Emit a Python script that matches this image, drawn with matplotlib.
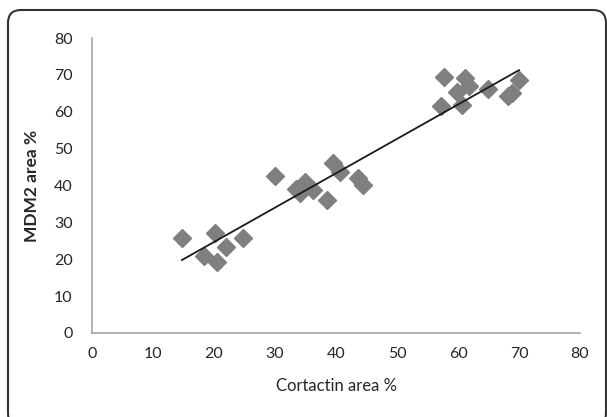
import matplotlib
matplotlib.use("Agg")
import matplotlib.pyplot as plt
from matplotlib.patches import FancyBboxPatch
from matplotlib.transforms import IdentityTransform
import numpy as np

# cortactin area % vs MDM2 area %
cortactin = [14.75, 18.4, 20.2, 20.5, 22.0, 24.8, 30.0, 33.4, 34.1, 34.9, 36.2,
             38.5, 39.5, 40.7, 43.6, 44.4, 57.2, 57.7, 59.8, 60.7, 61.1, 61.8,
             64.9, 68.2, 68.9, 70.0]
mdm2 = [25.7, 20.9, 27.1, 19.2, 23.3, 25.7, 42.5, 39.0, 37.9, 40.9, 38.8,
        36.0, 46.1, 43.6, 42.0, 40.1, 61.5, 69.4, 65.3, 61.8, 69.1, 66.9,
        66.1, 64.2, 65.0, 68.6]

ticks = [0, 10, 20, 30, 40, 50, 60, 70, 80]

plt.rcParams['font.family'] = ['Lato', 'DejaVu Sans']

W, H = 607, 417
fig = plt.figure(figsize=(W / 100, H / 100), dpi=100, facecolor='w')

# rounded frame around the chart, in pixels (corners partly off the edges)
frame = FancyBboxPatch((8, -9), 598, H - 10 + 9,
                       boxstyle="round,pad=0,rounding_size=13",
                       transform=IdentityTransform(), fill=False,
                       edgecolor='#333333', linewidth=1.5)
fig.patches.append(frame)

ax = fig.add_axes([92 / W, 1 - 333 / H, (580 - 92) / W, (333 - 38) / H])

ax.plot(cortactin, mdm2, linestyle='none', marker='D', markersize=9,
        color='#7f7f7f', markeredgecolor='#7f7f7f')

# linear trend line
k, b = np.polyfit(cortactin, mdm2, 1)
xs = np.array([min(cortactin), max(cortactin)])
ax.plot(xs, k * xs + b, color='#1a1a1a', linewidth=1.3)

ax.set_xlim(0, 80)
ax.set_ylim(0, 80)
ax.set_xticks(ticks)
ax.set_yticks(ticks)
for s in ['top', 'right']:
    ax.spines[s].set_visible(False)
for s in ['left', 'bottom']:
    ax.spines[s].set_color('#a6a6a6')
    ax.spines[s].set_linewidth(1.2)
ax.tick_params(length=0, labelsize=11.5, colors='#262626', pad=10)
ax.tick_params(axis='y', pad=14)

ax.set_xlabel('Cortactin area %', fontsize=12, color='#262626', labelpad=12)
ax.set_ylabel('MDM2 area %', fontsize=12.5, fontweight='bold', color='#262626', labelpad=10)

fig.savefig('out.png', dpi=100, facecolor='w')
